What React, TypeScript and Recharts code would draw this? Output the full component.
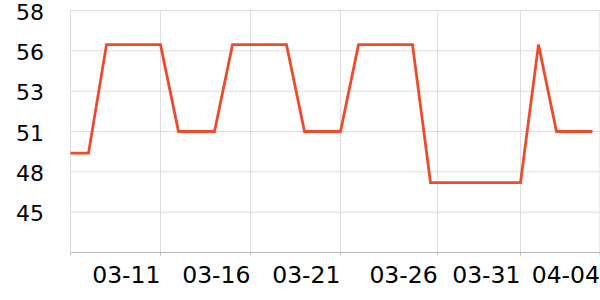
import React from 'react';
import { LineChart, Line, XAxis, YAxis, CartesianGrid } from 'recharts';

const dates = [
  '03-06', '03-07', '03-08', '03-09', '03-10', '03-11', '03-12', '03-13', '03-14', '03-15',
  '03-16', '03-17', '03-18', '03-19', '03-20', '03-21', '03-22', '03-23', '03-24', '03-25',
  '03-26', '03-27', '03-28', '03-29', '03-30', '03-31', '04-01', '04-02', '04-03', '04-04',
];

const values = [
  49.2, 49.2, 56.2, 56.2, 56.2, 56.2, 50.6, 50.6, 50.6, 56.2,
  56.2, 56.2, 56.2, 50.6, 50.6, 50.6, 56.2, 56.2, 56.2, 56.2,
  47.3, 47.3, 47.3, 47.3, 47.3, 47.3, 56.2, 50.6, 50.6, 50.6,
];

const xTicks = [0, 5, 10, 15, 20.4, 25, 29.417];
const xTickLabels = ['', '03-11', '03-16', '03-21', '03-26', '03-31', '04-04'];
const yTicks = [42.8, 45.4, 48, 50.6, 53.2, 55.8, 58.4];

const data = dates.map((d, i) => ({ day: i, date: d, value: values[i] }));

const FONT = '"DejaVu Sans", sans-serif';

const XTick = ({ x, y, payload }: any) => {
  const idx = xTicks.indexOf(payload.value);
  return (
    <text x={x} y={y} dy={16.4} textAnchor="end" fontSize={23.5} fontFamily={FONT} fill="#000">
      {idx >= 0 ? xTickLabels[idx] : ''}
    </text>
  );
};

const YTick = ({ x, y, payload }: any) => {
  if (payload.value === yTicks[0]) return null;
  return (
    <text x={x} y={y} dy={9} textAnchor="end" fontSize={22} fontFamily={FONT} fill="#000">
      {Math.round(payload.value)}
    </text>
  );
};

export default function App() {
  return (
    <div style={{ position: 'absolute', left: 0, top: 0, width: 600, height: 300 }}>
      <LineChart width={600} height={300} data={data} margin={{ top: 10.5, right: 0, bottom: 0, left: 0 }}>
        <CartesianGrid stroke="#ddd" />
        <XAxis
          dataKey="day"
          type="number"
          domain={[0, 29.417]}
          ticks={xTicks}
          interval={0}
          height={47.5}
          tickSize={3}
          tickMargin={11.5}
          stroke="#bbb"
          tick={<XTick />}
        />
        <YAxis
          type="number"
          domain={[42.8, 58.4]}
          ticks={yTicks}
          interval={0}
          width={70.5}
          axisLine={false}
          tickLine={false}
          tickSize={6}
          tickMargin={20.5}
          tick={<YTick />}
        />
        <Line
          type="linear"
          dataKey="value"
          stroke="#ee4b2d"
          strokeWidth={2.8}
          dot={false}
          isAnimationActive={false}
        />
      </LineChart>
    </div>
  );
}
